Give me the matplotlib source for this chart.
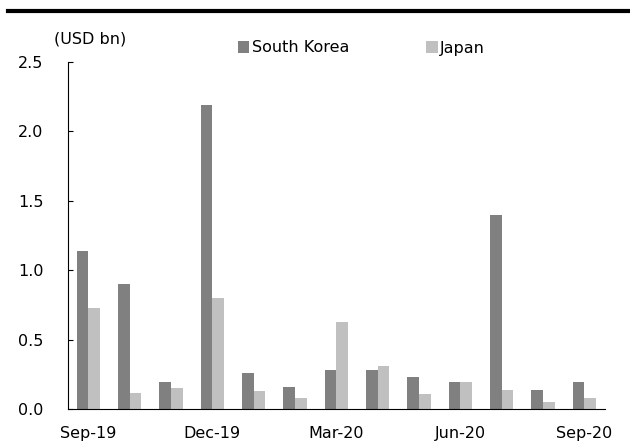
import numpy as np
import matplotlib
matplotlib.use("Agg")
import matplotlib.pyplot as plt

# Monthly values, USD bn
months = ["Sep-19", "Oct-19", "Nov-19", "Dec-19", "Jan-20", "Feb-20", "Mar-20",
          "Apr-20", "May-20", "Jun-20", "Jul-20", "Aug-20", "Sep-20"]
south_korea = [1.14, 0.90, 0.20, 2.19, 0.26, 0.16, 0.28, 0.28, 0.23, 0.20, 1.40, 0.14, 0.20]
japan = [0.73, 0.12, 0.15, 0.80, 0.13, 0.08, 0.63, 0.31, 0.11, 0.20, 0.14, 0.05, 0.08]
labelled = ["Sep-19", "Dec-19", "Mar-20", "Jun-20", "Sep-20"]
y_ticks = [0.0, 0.5, 1.0, 1.5, 2.0, 2.5]

plt.rcParams["font.family"] = "DejaVu Sans"
plt.rcParams["font.size"] = 11.5

fig = plt.figure(figsize=(6.3, 4.45), dpi=100)
ax = fig.add_axes([0.1075, 0.0802, 0.8528, 0.7805])

x = np.arange(len(months))
w = 0.283
ax.bar(x - w / 2, south_korea, width=w, color="#808080", linewidth=0, label="South Korea")
ax.bar(x + w / 2, japan, width=w, color="#c0c0c0", linewidth=0, label="Japan")

ax.set_xlim(-0.5, len(months) - 0.5)
ax.set_ylim(0, 2.5)
ax.set_yticks(y_ticks)
ax.set_yticklabels([f"{v:.1f}" for v in y_ticks])
ax.set_xticks([months.index(m) for m in labelled])
ax.set_xticklabels(labelled)
ax.tick_params(axis="y", direction="in", length=3.6, width=0.8, pad=17.5)
ax.tick_params(axis="x", length=0, pad=12)

for side in ("top", "right"):
    ax.spines[side].set_visible(False)
for side in ("left", "bottom"):
    ax.spines[side].set_linewidth(0.8)
    ax.spines[side].set_color("black")

# heavy rule across the top
fig.add_artist(plt.Line2D([8.3 / 630, 1.0], [1 - 11.3 / 445] * 2, color="black",
                          linewidth=3.0, transform=fig.transFigure))

fig.text(54 / 630, 1 - 38.5 / 445, "(USD bn)", ha="left", va="center")

fig.legend(loc="center left", bbox_to_anchor=(238 / 630, 1 - 48 / 445), ncol=2,
           frameon=False, handlelength=0.7, handleheight=0.7, handletextpad=0.15,
           columnspacing=4.85, borderpad=0, borderaxespad=0)

fig.savefig("out.png", dpi=100)
